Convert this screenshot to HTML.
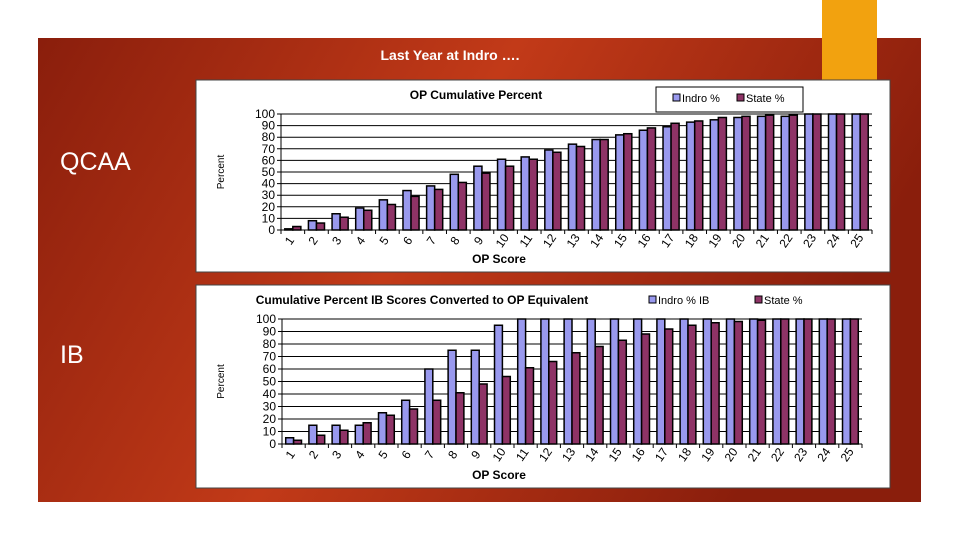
<!DOCTYPE html>
<html><head><meta charset="utf-8"><style>
html,body{margin:0;padding:0;background:#fff;width:960px;height:540px;overflow:hidden}
svg{display:block}
text{font-family:"Liberation Sans",sans-serif}
</style></head><body>
<svg id="s" width="960" height="540" xmlns="http://www.w3.org/2000/svg">
<defs>
<linearGradient id="bg" x1="0" y1="0" x2="1" y2="0.3">
<stop offset="0" stop-color="#8a1e0c"/><stop offset="0.5" stop-color="#c23a18"/><stop offset="1" stop-color="#8a1e0c"/>
</linearGradient>
</defs>
<rect x="38" y="38" width="883" height="464" fill="url(#bg)"/>
<rect x="822" y="0" width="55" height="80" fill="#f2a20f"/>
<text x="450" y="60" fill="#fff" font-size="14" font-weight="bold" text-anchor="middle">Last Year at Indro ….</text>
<text x="60" y="170" fill="#fff" font-size="25">QCAA</text>
<text x="60" y="363" fill="#fff" font-size="25">IB</text>
<g id="c1"></g><g id="c2"></g>
</svg>
<script>
const categories=["1","2","3","4","5","6","7","8","9","10","11","12","13","14","15","16","17","18","19","20","21","22","23","24","25"];
const yTicks=[0,10,20,30,40,50,60,70,80,90,100];
const opIndro=[1,8,14,19,26,34,38,48,55,61,63,69,74,78,82,86,89,93,95,97,98,98,100,100,100];
const opState=[3,6,11,17,22,29,35,41,49,55,61,67,72,78,83,88,92,94,97,98,99,99,100,100,100];
const ibIndro=[5,15,15,15,25,35,60,75,75,95,100,100,100,100,100,100,100,100,100,100,100,100,100,100,100];
const ibState=[3,7,11,17,23,28,35,41,48,54,61,66,73,78,83,88,92,95,97,98,99,100,100,100,100];
const NS="http://www.w3.org/2000/svg";
function mk(p,t,a){const e=document.createElementNS(NS,t);for(const k in a)e.setAttribute(k,a[k]);p.appendChild(e);return e;}
function chart(g,o){
  const bx=mk(g,'rect',{x:o.bx,y:o.by,width:694,height:o.bh,fill:'#fff',stroke:'#444'});
  
  const L=o.l,R=o.r,T=o.t,B=o.b;
  const y=v=>B-(v/100)*(B-T);
  const cw=(R-L)/categories.length;
  const x=i=>L+i*cw;
  yTicks.forEach(t=>{
    const ln=mk(g,'line',{x1:L-4,x2:R,y1:y(t),y2:y(t),stroke:'#000','stroke-width':1});
    
    const tx=mk(g,'text',{x:L-6,y:y(t)+4,'font-size':12,'text-anchor':'end'});tx.textContent=t;
    
  });
  mk(g,'line',{x1:L,x2:L,y1:T,y2:B,stroke:'#000'});
  const bw=cw*0.34;
  categories.forEach((c,i)=>{
    mk(g,'line',{x1:x(i),x2:x(i),y1:B,y2:B+4,stroke:'#000'});
    const cx=x(i)+cw/2;
    const b1=mk(g,'rect',{x:cx-bw,y:y(o.a[i]),width:bw,height:B-y(o.a[i]),fill:'#9999ee',stroke:'#000','stroke-width':1.5});
    
    const b2=mk(g,'rect',{x:cx,y:y(o.s[i]),width:bw,height:B-y(o.s[i]),fill:'#8e3366',stroke:'#000','stroke-width':1.5});
    
    const tl=mk(g,'text',{x:cx,y:B+13,'font-size':12,'text-anchor':'middle',transform:`rotate(-55 ${cx} ${B+13})`});tl.textContent=c;
    
  });
  mk(g,'line',{x1:R,x2:R,y1:B,y2:B+4,stroke:'#000'});
  const tt=mk(g,'text',{x:o.tx,y:o.by+19,'font-size':12,'font-weight':'bold','text-anchor':'middle'});tt.textContent=o.title;
  
  const xt=mk(g,'text',{x:499,y:o.by+o.bh-9,'font-size':12,'font-weight':'bold','text-anchor':'middle'});xt.textContent='OP Score';
  
  const ya=(T+B)/2;
  const yt=mk(g,'text',{x:o.bx+28,y:ya,'font-size':10,'text-anchor':'middle',transform:`rotate(-90 ${o.bx+28} ${ya})`});yt.textContent='Percent';
  
  const lg=mk(g,'g',{});
  if(o.lbox) mk(lg,'rect',{x:o.lx-17,y:o.ly-13,width:147,height:25,fill:'#fff',stroke:'#000'});
  mk(lg,'rect',{x:o.lx,y:o.ly-6,width:7,height:7,fill:'#9999ee',stroke:'#000'});
  const l1=mk(lg,'text',{x:o.lx+9,y:o.ly+2,'font-size':11});l1.textContent=o.l1;
  mk(lg,'rect',{x:o.lx2,y:o.ly-6,width:7,height:7,fill:'#8e3366',stroke:'#000'});
  const l2=mk(lg,'text',{x:o.lx2+9,y:o.ly+2,'font-size':11});l2.textContent='State %';
}
chart(document.getElementById('c1'),{name:'op-chart',bx:196,by:80,bh:192,l:281,r:872,t:114,b:230,a:opIndro,s:opState,
  title:'OP Cumulative Percent',tx:476,lx:673,lx2:737,ly:100,l1:'Indro %',lbox:true});
chart(document.getElementById('c2'),{name:'ib-chart',bx:196,by:285,bh:203,l:282,r:862,t:319,b:444,a:ibIndro,s:ibState,
  title:'Cumulative Percent IB Scores Converted to OP Equivalent',tx:422,lx:649,lx2:755,ly:302,l1:'Indro % IB',lbox:false});
</script>
</body></html>
